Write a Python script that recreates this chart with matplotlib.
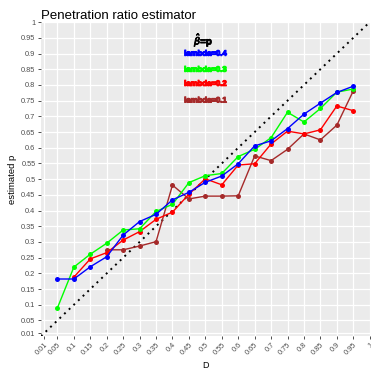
import matplotlib
matplotlib.use("Agg")
import matplotlib.pyplot as plt
import matplotlib.patheffects as pe
import numpy as np

plt.rcParams['font.family'] = ['Liberation Sans', 'DejaVu Sans']

# estimated p for each lambda
x_04 = [0.05, 0.1, 0.15, 0.2, 0.25, 0.3, 0.35, 0.4, 0.45, 0.5,
        0.55, 0.6, 0.65, 0.7, 0.75, 0.8, 0.85, 0.9, 0.95]
p_04 = [0.182, 0.182, 0.221, 0.253, 0.322, 0.365, 0.388, 0.434, 0.458, 0.490,
        0.510, 0.549, 0.606, 0.622, 0.661, 0.707, 0.742, 0.776, 0.796]

x_03 = x_04
p_03 = [0.090, 0.220, 0.261, 0.296, 0.338, 0.342, 0.397, 0.420, 0.489, 0.511,
        0.518, 0.572, 0.595, 0.632, 0.713, 0.682, 0.725, 0.777, 0.787]

x_02 = x_04[1:]
p_02 = [0.188, 0.246, 0.266, 0.306, 0.333, 0.372, 0.395, 0.452, 0.501,
        0.482, 0.545, 0.549, 0.612, 0.653, 0.644, 0.657, 0.733, 0.718]

x_01 = x_04[3:]
p_01 = [0.275, 0.275, 0.287, 0.301, 0.481, 0.437, 0.446, 0.446, 0.447,
        0.574, 0.559, 0.595, 0.644, 0.625, 0.672, 0.781]

ticks = [0.01, 0.05, 0.1, 0.15, 0.2, 0.25, 0.3, 0.35, 0.4, 0.45, 0.5,
         0.55, 0.6, 0.65, 0.7, 0.75, 0.8, 0.85, 0.9, 0.95, 1]
tick_labels = ['0.01', '0.05', '0.1', '0.15', '0.2', '0.25', '0.3', '0.35', '0.4',
               '0.45', '0.5', '0.55', '0.6', '0.65', '0.7', '0.75', '0.8', '0.85',
               '0.9', '0.95', '1']

fig = plt.figure(figsize=(3.71, 3.69), dpi=100)
ax = fig.add_axes([0.1105, 0.089, 0.886, 0.851])
ax.set_facecolor('#EBEBEB')
for s in ax.spines.values():
    s.set_visible(False)

ax.set_xticks(ticks)
ax.set_xticklabels(tick_labels, rotation=45, ha='right', rotation_mode='anchor')
ax.set_yticks(ticks)
ax.set_yticklabels(tick_labels)
ax.tick_params(length=2.5, width=0.6, color='#333333', labelsize=5.3,
               labelcolor='#4D4D4D', pad=1.5)
ax.grid(True, color='white', linewidth=0.9)
ax.set_axisbelow(True)

# y = x reference
ax.plot([0, 1], [0, 1], color='black', linewidth=1.4, dashes=(1, 2.3), zorder=2)

series = [(x_01, p_01, '#A52A2A'), (x_02, p_02, '#FF0000'),
          (x_03, p_03, '#00FF00'), (x_04, p_04, '#0000FF')]
for xs, ps, c in series:
    ax.plot(xs, ps, color=c, linewidth=1.0, marker='o', markersize=3.6,
            markeredgewidth=0, zorder=3)

ax.set_xlim(0, 1)
ax.set_ylim(0, 1)

# in-plot legend
ax.text(0.495, 0.945, r'$\hat{\beta}$=p', ha='center', va='center',
        fontsize=7, fontweight='bold', color='black',
        path_effects=[pe.withStroke(linewidth=0.6, foreground='black')])
labels = [('lambda=0.4', '#0000FF', 0.898), ('lambda=0.3', '#00FF00', 0.847),
          ('lambda=0.2', '#FF0000', 0.802), ('lambda=0.1', '#A52A2A', 0.749)]
for t, c, y in labels:
    ax.text(0.5, y, t, ha='center', va='center', fontsize=5.6,
            fontweight='bold', color=c,
            path_effects=[pe.withStroke(linewidth=0.8, foreground=c)])

ax.set_xlabel('D', fontsize=6.5, labelpad=3)
ax.set_ylabel('estimated p', fontsize=6.8, labelpad=3)
ax.set_title('Penetration ratio estimator', fontsize=9.5, loc='left', pad=2)

fig.savefig('out.png', dpi=100)
